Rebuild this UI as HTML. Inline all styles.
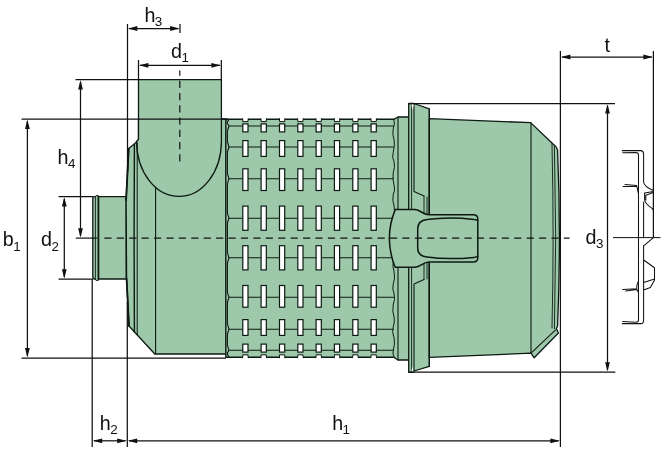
<!DOCTYPE html><html><head><meta charset="utf-8"><title>Filter dimensions</title>
<style>html,body{margin:0;padding:0;background:#fff}svg{display:block}text{font-family:"Liberation Sans",Arial,Helvetica,sans-serif;fill:#111}.m{font-size:19.7px}.s{font-size:13.4px}</style></head><body>
<svg width="669" height="451" viewBox="0 0 669 451">
<rect width="669" height="451" fill="#fff"/>
<g fill="#9ec8aa" stroke="#0c1a12" stroke-width="1.3" stroke-linejoin="round" stroke-linecap="round">
<path d="M92.8,198.2 L94,196.6 H126.2 V279 H94 L92.8,277.4 Z"/>
<rect x="95.4" y="195.4" width="3.2" height="85.2" rx="1.6" stroke-width="0.9"/>
<path d="M98.4,196.4 V279.6" stroke-width="1.7"/>
<path d="M138.5,119 V139.3 L135.2,143.2 L128.7,148.6 L126.1,200 L126.6,279 L129,326 L154.8,354 H227 V119 Z"/>
<path d="M138.5,79.6 H221.4 V141.4 A42.4,55 0 0 1 179,196.4 A42.4,55 0 0 1 136.6,141.5 L138.5,139.3 Z"/>
<path d="M225.8,357.3 V121 Q225.8,119.2 227.8,119.2 H394.3 V357.3 Z" stroke="none"/>
<path d="M393.6,357.3 H225.8 V121 Q225.8,119.2 227.8,119.2 H393.6" fill="none" stroke-width="1.4"/>
<path d="M393.6,119.5 L398,117 H408.7 V360 H398 L393.6,357.4 Z" stroke="none"/>
<path d="M393.8,119.4 L398,117 H408.7 M408.7,360 H398 L393.8,357.3" fill="none"/>
<path d="M408.7,103.5 H414 L429.3,108.8 V366.4 L414,371 L413.5,372.3 H408.7 Z"/>
<path d="M429.3,118.7 L530.6,122.6 L552.8,143.8 Q556.6,146.2 557.6,150 Q561.2,238 557.6,326 L556.4,328.6 L558.4,333 L534.2,357.8 L531,353.2 L429.3,357.4 Z"/>
</g>
<g fill="none" stroke="#0c1a12" stroke-width="1.1" stroke-linecap="round" stroke-linejoin="round">
<path d="M134.4,144 L134.1,238 L134.4,332" stroke-width="1.4"/>
<path d="M137.2,142.8 V334.8" stroke-width="1"/>
<path d="M155.6,187 V354"/>
<path d="M128.7,148.6 L126.1,200 M126.6,279 L129,326" stroke-width="1.8"/>
<path d="M229,126.0 H393.4"/>
<path d="M229,147.0 H393.4"/>
<path d="M229,178.7 H393.4"/>
<path d="M229,218.2 H393.4"/>
<path d="M229,257.8 H393.4"/>
<path d="M229,297.3 H393.4"/>
<path d="M229,329.2 H393.4"/>
<path d="M229,350.3 H393.4"/>
<path d="M229,119.5 L227.4,122.0 L227.4,123.5 L229,126.0 L227.4,131.0 L227.4,142.0 L229,147.0 L227.4,152.0 L227.4,173.7 L229,178.7 L227.4,183.7 L227.4,213.2 L229,218.2 L227.4,223.2 L227.4,252.8 L229,257.8 L227.4,262.8 L227.4,292.3 L229,297.3 L227.4,302.3 L227.4,324.2 L229,329.2 L227.4,334.2 L227.4,345.3 L229,350.3 L227.4,352.9 L227.4,354.4 L229,357.0" stroke-width="1.1"/>
<path d="M393.8,119.4 Q395.4,124.2 393.2,128.9 Q392.0,134.4 394.1,139.9 Q395.0,146.2 393.2,152.4 Q391.7,157.2 394.1,161.9 Q395.2,167.4 393.2,172.9 Q392.3,179.2 394.1,185.4 Q395.5,190.2 393.2,194.9 Q392.0,200.4 394.1,205.9 Q395.4,212.2 393.2,218.4 Q392.0,223.2 394.1,227.9 Q395.0,233.4 393.2,238.9 Q391.7,245.2 394.1,251.4 Q395.2,256.1 393.2,260.9 Q392.3,266.4 394.1,271.9 Q395.5,278.1 393.2,284.4 Q392.0,289.1 394.1,293.9 Q395.4,299.4 393.2,304.9 Q392.0,311.1 394.1,317.4 Q395.0,322.1 393.2,326.9 Q391.7,332.4 394.1,337.9 Q395.2,344.1 393.2,350.4 Q392.3,353.8 394.1,357.2" stroke-width="1.0"/>
<path d="M398,117 V360"/>
<path d="M411.6,104 V372" stroke-width="0.9"/>
<path d="M414,104 V191.5 L424,196 M414,371 V284 L424,279.5" />
<path d="M424,196 V213.5 M427,197 V214 M424,279.5 V263 M427,279 V262.5" stroke-width="0.9"/>
<path d="M429.3,108.8 V366.4"/>
<path d="M531,122.8 V353.2"/>
<path d="M552,143.6 Q554.2,238 552,328" stroke-width="0.9"/>
<path d="M554.4,145.5 Q557,238 554.4,328.6" stroke-width="0.9"/>
<path d="M531,353.2 L555.6,329.8"/>
</g>
<path d="M411.4,104.3 L413.7,104.3 L412.5,110.5 Z M411.4,371.6 L413.3,371.6 L412.4,366 Z" fill="#fff"/>
<g fill="#fff" stroke="#0c1a12" stroke-width="1.2">
<rect x="242.8" y="123.9" width="5.2" height="8.0"/>
<rect x="242.8" y="140.6" width="5.2" height="15.8"/>
<rect x="242.8" y="168.8" width="5.2" height="21.7"/>
<rect x="242.8" y="206.1" width="5.2" height="24.2"/>
<rect x="242.8" y="245.7" width="5.2" height="24.2"/>
<rect x="242.8" y="285.5" width="5.2" height="21.7"/>
<rect x="242.8" y="319.6" width="5.2" height="15.8"/>
<rect x="242.8" y="344.1" width="5.2" height="8.0"/>
<rect x="261.1" y="123.9" width="5.2" height="8.0"/>
<rect x="261.1" y="140.6" width="5.2" height="15.8"/>
<rect x="261.1" y="168.8" width="5.2" height="21.7"/>
<rect x="261.1" y="206.1" width="5.2" height="24.2"/>
<rect x="261.1" y="245.7" width="5.2" height="24.2"/>
<rect x="261.1" y="285.5" width="5.2" height="21.7"/>
<rect x="261.1" y="319.6" width="5.2" height="15.8"/>
<rect x="261.1" y="344.1" width="5.2" height="8.0"/>
<rect x="279.5" y="123.9" width="5.2" height="8.0"/>
<rect x="279.5" y="140.6" width="5.2" height="15.8"/>
<rect x="279.5" y="168.8" width="5.2" height="21.7"/>
<rect x="279.5" y="206.1" width="5.2" height="24.2"/>
<rect x="279.5" y="245.7" width="5.2" height="24.2"/>
<rect x="279.5" y="285.5" width="5.2" height="21.7"/>
<rect x="279.5" y="319.6" width="5.2" height="15.8"/>
<rect x="279.5" y="344.1" width="5.2" height="8.0"/>
<rect x="297.8" y="123.9" width="5.2" height="8.0"/>
<rect x="297.8" y="140.6" width="5.2" height="15.8"/>
<rect x="297.8" y="168.8" width="5.2" height="21.7"/>
<rect x="297.8" y="206.1" width="5.2" height="24.2"/>
<rect x="297.8" y="245.7" width="5.2" height="24.2"/>
<rect x="297.8" y="285.5" width="5.2" height="21.7"/>
<rect x="297.8" y="319.6" width="5.2" height="15.8"/>
<rect x="297.8" y="344.1" width="5.2" height="8.0"/>
<rect x="316.1" y="123.9" width="5.2" height="8.0"/>
<rect x="316.1" y="140.6" width="5.2" height="15.8"/>
<rect x="316.1" y="168.8" width="5.2" height="21.7"/>
<rect x="316.1" y="206.1" width="5.2" height="24.2"/>
<rect x="316.1" y="245.7" width="5.2" height="24.2"/>
<rect x="316.1" y="285.5" width="5.2" height="21.7"/>
<rect x="316.1" y="319.6" width="5.2" height="15.8"/>
<rect x="316.1" y="344.1" width="5.2" height="8.0"/>
<rect x="334.4" y="123.9" width="5.2" height="8.0"/>
<rect x="334.4" y="140.6" width="5.2" height="15.8"/>
<rect x="334.4" y="168.8" width="5.2" height="21.7"/>
<rect x="334.4" y="206.1" width="5.2" height="24.2"/>
<rect x="334.4" y="245.7" width="5.2" height="24.2"/>
<rect x="334.4" y="285.5" width="5.2" height="21.7"/>
<rect x="334.4" y="319.6" width="5.2" height="15.8"/>
<rect x="334.4" y="344.1" width="5.2" height="8.0"/>
<rect x="352.8" y="123.9" width="5.2" height="8.0"/>
<rect x="352.8" y="140.6" width="5.2" height="15.8"/>
<rect x="352.8" y="168.8" width="5.2" height="21.7"/>
<rect x="352.8" y="206.1" width="5.2" height="24.2"/>
<rect x="352.8" y="245.7" width="5.2" height="24.2"/>
<rect x="352.8" y="285.5" width="5.2" height="21.7"/>
<rect x="352.8" y="319.6" width="5.2" height="15.8"/>
<rect x="352.8" y="344.1" width="5.2" height="8.0"/>
<rect x="371.1" y="123.9" width="5.2" height="8.0"/>
<rect x="371.1" y="140.6" width="5.2" height="15.8"/>
<rect x="371.1" y="168.8" width="5.2" height="21.7"/>
<rect x="371.1" y="206.1" width="5.2" height="24.2"/>
<rect x="371.1" y="245.7" width="5.2" height="24.2"/>
<rect x="371.1" y="285.5" width="5.2" height="21.7"/>
<rect x="371.1" y="319.6" width="5.2" height="15.8"/>
<rect x="371.1" y="344.1" width="5.2" height="8.0"/>
</g>
<g fill="#fff" stroke="#0c1a12" stroke-width="1">
<path d="M242.8,118.2 V121.6 H248.0 V118.2" />
<path d="M242.8,358.2 V354.8 H248.0 V358.2" />
<path d="M261.1,118.2 V121.6 H266.3 V118.2" />
<path d="M261.1,358.2 V354.8 H266.3 V358.2" />
<path d="M279.5,118.2 V121.6 H284.7 V118.2" />
<path d="M279.5,358.2 V354.8 H284.7 V358.2" />
<path d="M297.8,118.2 V121.6 H303.0 V118.2" />
<path d="M297.8,358.2 V354.8 H303.0 V358.2" />
<path d="M316.1,118.2 V121.6 H321.3 V118.2" />
<path d="M316.1,358.2 V354.8 H321.3 V358.2" />
<path d="M334.4,118.2 V121.6 H339.7 V118.2" />
<path d="M334.4,358.2 V354.8 H339.7 V358.2" />
<path d="M352.8,118.2 V121.6 H358.0 V118.2" />
<path d="M352.8,358.2 V354.8 H358.0 V358.2" />
<path d="M371.1,118.2 V121.6 H376.3 V118.2" />
<path d="M371.1,358.2 V354.8 H376.3 V358.2" />
</g>
<g fill="#fff">
<rect x="243.3" y="116" width="4.2" height="3.6"/>
<rect x="243.3" y="356.6" width="4.2" height="3.4"/>
<rect x="261.6" y="116" width="4.2" height="3.6"/>
<rect x="261.6" y="356.6" width="4.2" height="3.4"/>
<rect x="280.0" y="116" width="4.2" height="3.6"/>
<rect x="280.0" y="356.6" width="4.2" height="3.4"/>
<rect x="298.3" y="116" width="4.2" height="3.6"/>
<rect x="298.3" y="356.6" width="4.2" height="3.4"/>
<rect x="316.6" y="116" width="4.2" height="3.6"/>
<rect x="316.6" y="356.6" width="4.2" height="3.4"/>
<rect x="334.9" y="116" width="4.2" height="3.6"/>
<rect x="334.9" y="356.6" width="4.2" height="3.4"/>
<rect x="353.3" y="116" width="4.2" height="3.6"/>
<rect x="353.3" y="356.6" width="4.2" height="3.4"/>
<rect x="371.6" y="116" width="4.2" height="3.6"/>
<rect x="371.6" y="356.6" width="4.2" height="3.4"/>
</g>
<g fill="#9ec8aa" stroke="#0c1a12" stroke-width="1.5" stroke-linejoin="round">
<path d="M395.2,209.6 H415 C421,210.2 423,214.8 429,214.8 H473.3 Q477.8,214.8 477.8,219.3 V257.5 Q477.8,262 473.3,262 H429 C423,262 421,266.8 415,267.3 H395.2 Q383.5,238.4 395.2,209.6 Z"/>
<path d="M477.8,221 Q477.6,219.6 474,219.4 Q448,216.6 427,219.6 Q417.7,220.6 417.7,229 V248 Q417.7,256 427,257 Q448,260 474,257.4 Q477.6,257 477.8,255.6" fill="none"/>
</g>
<g fill="none" stroke="#111" stroke-width="1.05" stroke-linecap="round" stroke-linejoin="round">
<path d="M622.3,150.6 H640.5 Q643.6,150.6 643.6,154.5 V182 Q643.9,186.5 653.4,190.6 M622.7,152.8 L636,152.4 Q638.5,152.4 638.5,155 V237.6 M625,184.6 L636.8,185.4 M623,186.6 L636.8,186.2 L638.5,194 M653.4,191.4 L644.6,193 V200 Q645,203.5 652.4,208.6 L653.4,210.2 M653.4,192.6 L645.8,195.2 V200 M643.6,202 V237.6"/>
<path d="M622.3,323.6 H640.5 Q643.6,323.6 643.6,320.5 V245.6 M622.7,321.6 L636,322.2 Q638.5,322.2 638.5,320 V237.6 M622.7,289.4 L636.8,288.8 M625.6,291 L636.8,289.6 M638.5,281 L636.8,285.6 V289.4 L638.5,292.5 M643.6,260 L654.5,267.8 V280 L650.4,287.6 L643.6,290 M654.5,279 L643.6,282.4 M653.4,237.6 L644,245.6"/>
</g>
<g fill="none" stroke="#111" stroke-width="1.25">
<path d="M127.5,24 V172"/>
<path d="M180,24 V33"/>
<path d="M138.5,60 V80 M221.3,60 V80"/>
<path d="M75.5,79.5 H138.5"/>
<path d="M21.5,119 H226.5"/>
<path d="M21.5,358 H226"/>
<path d="M58.5,196.6 H93 M58.5,279.2 H93"/>
<path d="M92.2,279 V447 M127.3,302 V447"/>
<path d="M560.4,51 V447"/>
<path d="M653.4,51 V237.6"/>
<path d="M408.7,103.5 H615 M408.7,372.2 H615.3"/>
<path d="M129,28.5 H178.4"/>
<path d="M140,65.3 H220"/>
<path d="M80.5,82 V236"/>
<path d="M27.4,121 V356"/>
<path d="M64.3,199 V277"/>
<path d="M94,440.8 H125.5"/>
<path d="M129,440.8 H558.6"/>
<path d="M562,57 H651.8"/>
<path d="M607.5,105.5 V370"/>
<path d="M613,237.6 H660.5" stroke-width="1"/>
</g>
<path d="M75.8,238.1 H97.5" fill="none" stroke="#111" stroke-width="1.2"/>
<g fill="none" stroke="#111" stroke-width="1.2" stroke-dasharray="7.2,5.22">
<path d="M104.3,238.1 H569.6"/>
<path d="M179.8,70.6 V162.2" stroke-dasharray="7.25,5" stroke-dashoffset="2.1"/>
</g>
<g fill="#111" stroke="none">
<polygon points="128.0,28.5 137.4,26.1 137.4,30.9"/>
<polygon points="179.5,28.5 170.1,26.1 170.1,30.9"/>
<polygon points="139.0,65.3 148.4,62.9 148.4,67.7"/>
<polygon points="220.8,65.3 211.4,62.9 211.4,67.7"/>
<polygon points="80.5,80.0 78.1,89.4 82.9,89.4"/>
<polygon points="80.5,237.6 78.1,228.2 82.9,228.2"/>
<polygon points="27.4,119.6 25.0,129.0 29.8,129.0"/>
<polygon points="27.4,357.4 25.0,348.0 29.8,348.0"/>
<polygon points="64.3,197.2 61.9,206.6 66.7,206.6"/>
<polygon points="64.3,278.6 61.9,269.2 66.7,269.2"/>
<polygon points="92.8,440.8 102.2,438.4 102.2,443.2"/>
<polygon points="126.6,440.8 117.2,438.4 117.2,443.2"/>
<polygon points="127.8,440.8 137.2,438.4 137.2,443.2"/>
<polygon points="559.8,440.8 550.4,438.4 550.4,443.2"/>
<polygon points="561.0,57.0 570.4,54.6 570.4,59.4"/>
<polygon points="652.8,57.0 643.4,54.6 643.4,59.4"/>
<polygon points="607.5,104.2 605.1,113.6 609.9,113.6"/>
<polygon points="607.5,371.6 605.1,362.2 609.9,362.2"/>
</g>
<g style="filter:grayscale(1)">
<text class="m" x="144.4" y="21.5">h</text><text class="s" x="154.8" y="25.8">3</text>
<text class="m" x="171" y="57.8">d</text><text class="s" x="181.4" y="62.099999999999994">1</text>
<text class="m" x="57.5" y="164">h</text><text class="s" x="67.9" y="168.3">4</text>
<text class="m" x="2.8" y="246.3">b</text><text class="s" x="13.2" y="250.60000000000002">1</text>
<text class="m" x="41" y="246.3">d</text><text class="s" x="51.4" y="250.60000000000002">2</text>
<text class="m" x="99.8" y="430">h</text><text class="s" x="110.2" y="434.3">2</text>
<text class="m" x="332.2" y="429.5">h</text><text class="s" x="342.59999999999997" y="433.8">1</text>
<text class="m" x="585.5" y="244">d</text><text class="s" x="595.9" y="248.3">3</text>
<text class="m" x="604.6" y="51.5">t</text>
</g>
</svg></body></html>
